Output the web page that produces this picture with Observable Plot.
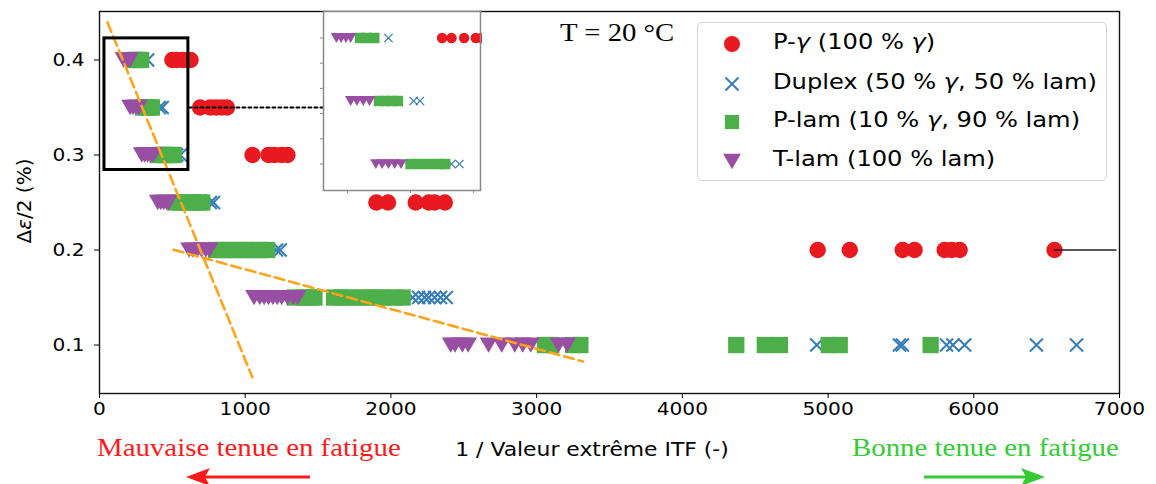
<!DOCTYPE html>
<html><head><meta charset="utf-8">
<script src="https://cdn.jsdelivr.net/npm/d3@7"></script>
<script src="https://cdn.jsdelivr.net/npm/@observablehq/plot@0.6"></script>
<style>
body{margin:0;background:#fff;}
#wrap{position:relative;width:1156px;height:484px;overflow:hidden;font-family:"DejaVu Sans",sans-serif;color:#000;}
#wrap > svg{position:absolute;}
.lbl{position:absolute;white-space:nowrap;line-height:1;}
.serif{font-family:"Liberation Serif","Times New Roman",serif;}
#legend{position:absolute;left:697px;top:22px;width:410px;height:159px;box-sizing:border-box;border:1.3px solid #d4d4d4;border-radius:5px;background:rgba(255,255,255,0.85);}
.row{position:absolute;left:0;height:30px;width:100%;}
.row svg{position:absolute;left:22px;top:3px;}
.row span{position:absolute;left:75px;top:3px;font-size:21px;line-height:1;white-space:nowrap;transform:scaleX(1.15);transform-origin:0 0;}
</style></head><body><div id="wrap"></div>
<script>
// ---------- data (x = 1 / valeur extrême ITF, y = Δε/2 in %) ----------
const pGammaRows = [
  [0.40, [500, 530, 570, 607, 625]],
  [0.35, [690, 760, 800, 840, 875]],
  [0.30, [1050, 1160, 1200, 1250, 1290]],
  [0.25, [1900, 1980, 2170, 2260, 2300, 2370]],
  [0.20, [4929, 5149, 5512, 5594, 5800, 5848, 5903, 6554]]
];
const duplexRows = [
  [0.40, [330]],
  [0.35, [410, 430]],
  [0.30, [530, 555]],
  [0.25, [760, 782]],
  [0.20, [1215, 1240]],
  [0.15, [2150, 2190, 2230, 2260, 2300, 2340, 2380]],
  [0.10, [4922, 5490, 5510, 5813, 5857, 5937, 6430, 6705]]
];
const pLamRows = [
  [0.40, [240, 260, 285]],
  [0.35, [300, 320, 340, 360]],
  [0.30, [400, 430, 460, 490, 510]],
  [0.25, [520, 560, 600, 640, 680, 705]],
  [0.20, [800, 850, 900, 950, 1000, 1050, 1100, 1150]],
  [0.15, [1340, 1400, 1440, 1475, 1610, 1660, 1720, 1780, 1840, 1900, 1960, 2020, 2080]],
  [0.10, [3057, 3100, 3250, 3300, 4370, 4566, 4669, 5005, 5080, 5704]]
];
const tLamRows = [
  [0.40, [165, 180, 195, 210]],
  [0.35, [210, 230, 250, 270]],
  [0.30, [290, 310, 330, 350, 370]],
  [0.25, [400, 420, 440, 460, 475]],
  [0.20, [615, 640, 670, 700, 730, 755]],
  [0.15, [1060, 1100, 1130, 1160, 1190, 1220, 1250, 1290, 1330, 1360]],
  [0.10, [2410, 2440, 2490, 2530, 2670, 2760, 2850, 2905, 2960, 3150, 3210]]
];
const runoutX = [6554, 6975];
const runoutY = [0.2, 0.2];
const trend1X = [55, 1049];
const trend1Y = [0.4395, 0.066];
const trend2X = [507, 3318];
const trend2Y = [0.2003, 0.0827];
const zoomBoxX = [34, 610];
const zoomBoxY = [0.2842, 0.4227];
const connectorX = [610, 1536];
const connectorY = [0.35, 0.35];
const xTicks = [0, 1000, 2000, 3000, 4000, 5000, 6000, 7000];
const yTicks = [0.1, 0.2, 0.3, 0.4];
const insetXDomain = [124, 622];
const insetYDomain = [0.279, 0.421];
const insetXTicks = [200, 400, 600];
const insetYTicks = [0.30, 0.32, 0.34, 0.36, 0.38, 0.40];
const seriesLabels = ["P-<i>γ</i> (100 % <i>γ</i>)", "Duplex (50 % <i>γ</i>, 50 % lam)", "P-lam (10 % <i>γ</i>, 90 % lam)", "T-lam (100 % lam)"];
const seriesColors = ["#e8191f", "#377eb8", "#4daf4a", "#984ea3"];
const seriesSymbols = ["circle", "times", "square", "triangleDown"];

// ---------- helpers ----------
const flat = rows => rows.flatMap(([y, xs]) => xs.map(x => ({x, y})));
const pts = (xs, ys) => xs.map((x, i) => ({x, y: ys[i]}));
const [RED, BLUE, GREEN, PURPLE] = seriesColors;
const STRETCH = 1.12;
function stretchTicks(svg, s) {
  svg.querySelectorAll('g[aria-label$="tick label"] text').forEach(t => {
    const x = +(t.getAttribute("x") || 0);
    t.setAttribute("transform", (t.getAttribute("transform") || "") + ` translate(${x},0) scale(${s},1) translate(${-x},0)`);
  });
}

function seriesMarks(scale) {
  return [
    Plot.dot(flat(pGammaRows), {x: "x", y: "y", r: 8.2 * scale, fill: RED, stroke: "none"}),
    Plot.dot(flat(duplexRows), {x: "x", y: "y", r: 6 * scale, symbol: "times", stroke: BLUE, strokeWidth: 2 * Math.max(scale, 0.6), fill: "none"}),
    Plot.dot(flat(pLamRows), {x: "x", y: "y", r: 9.2 * scale, symbol: "square", fill: GREEN, stroke: "none"}),
    Plot.dot(flat(tLamRows), {x: "x", y: "y", r: 6.6 * scale, symbol: "triangle", rotate: 180, dy: -2.5 * scale, fill: PURPLE, stroke: "none"})
  ];
}

const wrap = document.getElementById("wrap");

// ---------- main chart ----------
const main = Plot.plot({
  width: 1156, height: 484,
  marginLeft: 99, marginRight: 37, marginTop: 11, marginBottom: 91,
  style: {fontFamily: "DejaVu Sans, sans-serif", fontSize: "18px", color: "#000", background: "transparent", overflow: "visible"},
  x: {domain: [0, 7000], label: null},
  y: {domain: [0.049, 0.451], label: null},
  marks: [
    ...seriesMarks(1),
    Plot.line(pts(runoutX, runoutY), {x: "x", y: "y", stroke: "#222", strokeWidth: 1.6}),
    Plot.line(pts(trend1X, trend1Y), {x: "x", y: "y", stroke: "#ffa31a", strokeWidth: 2.6, strokeDasharray: "10,5"}),
    Plot.line(pts(trend2X, trend2Y), {x: "x", y: "y", stroke: "#ffa31a", strokeWidth: 2.6, strokeDasharray: "10,5"}),
    Plot.rect([{x1: zoomBoxX[0], x2: zoomBoxX[1], y1: zoomBoxY[0], y2: zoomBoxY[1]}], {x1: "x1", x2: "x2", y1: "y1", y2: "y2", fill: "none", stroke: "#000", strokeWidth: 3}),
    Plot.line(pts(connectorX, connectorY), {x: "x", y: "y", stroke: "#000", strokeWidth: 2, strokeDasharray: "3,3"}),
    Plot.axisX(xTicks, {tickSize: 5, tickPadding: 4, fontSize: 18, tickFormat: d3.format("d")}),
    Plot.axisY(yTicks, {tickSize: 5, tickPadding: 10, fontSize: 18, tickFormat: d3.format(".1f")}),
    Plot.frame({stroke: "#111", strokeWidth: 1.4})
  ]
});
main.style.left = "0px"; main.style.top = "0px";
stretchTicks(main, STRETCH);
wrap.appendChild(main);

// ---------- inset (zoom of the framed region) ----------
const inset = Plot.plot({
  width: 164, height: 185,
  marginLeft: 5, marginRight: 2, marginTop: 1, marginBottom: 5,
  style: {background: "transparent", fontSize: "1px"},
  x: {domain: insetXDomain, label: null},
  y: {domain: insetYDomain, label: null},
  marks: [
    Plot.frame({fill: "#fff", stroke: "none"}),
    ...seriesMarks(0.64),
    Plot.axisX(insetXTicks, {tickSize: 3, stroke: "#888", tickFormat: () => ""}),
    Plot.axisY(insetYTicks, {tickSize: 3, stroke: "#888", tickFormat: () => ""}),
    Plot.frame({stroke: "#8a8a8a", strokeWidth: 1.5})
  ]
});
inset.style.left = "318px"; inset.style.top = "10px";
wrap.appendChild(inset);

// ---------- text ----------
function addLabel(html, cls, css) {
  const d = document.createElement("div");
  d.className = "lbl " + cls;
  d.innerHTML = html;
  Object.assign(d.style, css);
  wrap.appendChild(d);
  return d;
}
addLabel("T = 20 °C", "serif", {left: "560px", top: "20px", fontSize: "25px", transform: "scaleX(1.15)", transformOrigin: "0 0"});
addLabel("1 / Valeur extrême ITF (-)", "", {left: "592px", top: "440px", fontSize: "19px", transform: "translateX(-50%) scaleX(1.15)"});
addLabel("Δ<i>ε</i>/2 (%)", "", {left: "24px", top: "201px", fontSize: "20px", transform: "translate(-50%,-50%) rotate(-90deg)"});
addLabel("Mauvaise tenue en fatigue", "serif", {left: "97px", top: "435px", fontSize: "26px", color: "#ff1a1a", transform: "scaleX(1.11)", transformOrigin: "0 0"});
addLabel("Bonne tenue en fatigue", "serif", {left: "852px", top: "435px", fontSize: "26px", color: "#33cc33", transform: "scaleX(1.11)", transformOrigin: "0 0"});

// arrows
const ns = "http://www.w3.org/2000/svg";
const arr = document.createElementNS(ns, "svg");
arr.setAttribute("width", 1156); arr.setAttribute("height", 484);
arr.style.left = "0px"; arr.style.top = "0px"; arr.style.pointerEvents = "none";
arr.innerHTML = `
  <line x1="310" y1="477" x2="200" y2="477" stroke="#ff1a1a" stroke-width="3"/>
  <polygon points="186,477 210,468 205,477 210,486" fill="#ff1a1a"/>
  <line x1="924" y1="477" x2="1030" y2="477" stroke="#33cc33" stroke-width="3"/>
  <polygon points="1045,477 1021,468 1026,477 1021,486" fill="#33cc33"/>`;
wrap.appendChild(arr);

// ---------- legend ----------
const legend = document.createElement("div");
legend.id = "legend";
const rowTops = [6, 46, 84, 123];
const symPath = {
  circle: d3.symbol(d3.symbolCircle, Math.PI * 8 * 8)(),
  times: d3.symbol(d3.symbolTimes, Math.PI * 6 * 6)(),
  square: d3.symbol(d3.symbolSquare, Math.PI * 8 * 8)(),
  triangleDown: d3.symbol(d3.symbolTriangle, Math.PI * 6.6 * 6.6)()
};
seriesLabels.forEach((lab, i) => {
  const row = document.createElement("div");
  row.className = "row"; row.style.top = rowTops[i] + "px";
  const s = seriesSymbols[i];
  const tr = s === "triangleDown" ? "translate(12,10) rotate(180)" : "translate(12,12)";
  const paint = s === "times" ? `fill="none" stroke="${seriesColors[i]}" stroke-width="2"` : `fill="${seriesColors[i]}"`;
  row.innerHTML = `<svg width="24" height="24"><path d="${symPath[s]}" transform="${tr}" ${paint}/></svg><span>${lab}</span>`;
  legend.appendChild(row);
});
wrap.appendChild(legend);
</script></body></html>
